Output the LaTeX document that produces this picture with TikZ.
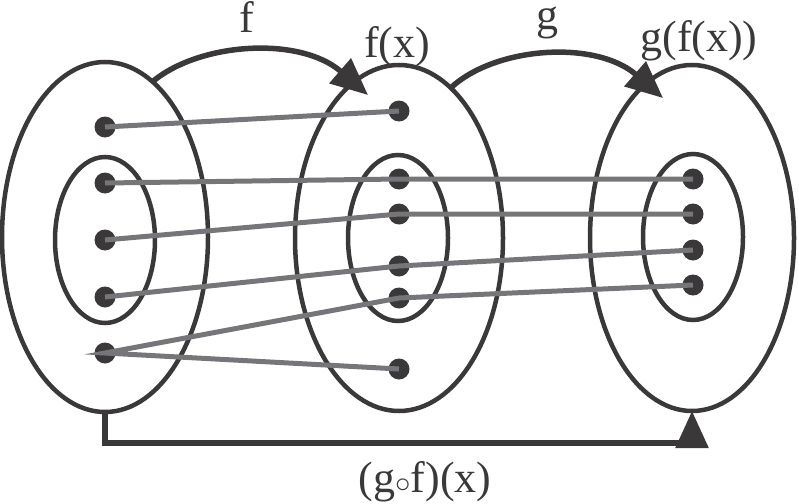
\RequirePackage{fix-cm}
\documentclass[tikz,border=0pt]{standalone}
\usepackage{fontspec}
\setmainfont{Liberation Serif}
\usetikzlibrary{shapes.geometric,arrows.meta}
\definecolor{ink}{RGB}{58,56,57}
\definecolor{wire}{RGB}{118,118,122}
\begin{document}
\begin{tikzpicture}[x=1pt,y=-1pt,
  setring/.style={ellipse,draw=ink,line width=4.5pt,inner sep=0pt,outer sep=0pt},
  elem/.style={circle,fill=ink,minimum size=21pt,inner sep=0pt,outer sep=0pt},
  wirestyle/.style={draw=wire,line width=5pt},
  maparrow/.style={draw=ink,line width=5.5pt,-{Triangle[length=37pt,width=32pt]}},
  lbl/.style={font=\fontsize{44}{50}\selectfont,text=ink,anchor=base,inner sep=0pt,
    text height=0.6em,text depth=0.22em}]
\useasboundingbox (0,0) rectangle (799,503);
% sets
\node[setring,minimum width=206pt,minimum height=350pt] (A) at (105,237) {};
\node[setring,minimum width=100pt,minimum height=166pt] (Ai) at (105,240) {};
\node[setring,minimum width=208pt,minimum height=346pt] (B) at (399,238) {};
\node[setring,minimum width=100pt,minimum height=166pt] (Bi) at (398,238) {};
\node[setring,minimum width=204pt,minimum height=346pt] (C) at (692,238) {};
\node[setring,minimum width=100pt,minimum height=166pt] (Ci) at (693,237) {};
% elements
\node[elem] (a1) at (105,127) {};
\node[elem] (a2) at (105,183) {};
\node[elem] (a3) at (105,240) {};
\node[elem] (a4) at (105,297) {};
\node[elem] (a5) at (105,353) {};
\node[elem] (b1) at (399,111) {};
\node[elem] (b2) at (399,179) {};
\node[elem] (b3) at (399,214) {};
\node[elem] (b4) at (399,266) {};
\node[elem] (b5) at (399,298) {};
\node[elem] (b6) at (399,369) {};
\node[elem] (c1) at (693,179) {};
\node[elem] (c2) at (693,214) {};
\node[elem] (c3) at (693,250) {};
\node[elem] (c4) at (693,285) {};
% mappings
\draw[wirestyle] (a1.center) -- (b1.center);
\draw[wirestyle] (a2.center) -- (b2.center) -- (c1.center);
\draw[wirestyle] (a3.center) -- (b3.center) -- (c2.center);
\draw[wirestyle] (a4.center) -- (b4.center) -- (c3.center);
\draw[wirestyle] (b6.center) -- (a5.center) -- (b5.center) -- (c4.center);
% function arrows
\coordinate (ftip) at (368,95);
\coordinate (gtip) at (663,98);
\draw[maparrow] (A.73) .. controls (200,42) and (300,36) .. (ftip);
\draw[maparrow] (B.71) .. controls (496,46) and (596,40) .. (gtip);
\draw[maparrow] (A.south) -- ++(0,31) -| (C.south);
% labels
\node[lbl] (flbl) at (247,33) {f};
\node[lbl] (fxlbl) at (397,57) {f(x)};
\node[lbl] (glbl) at (547,30) {g};
\node[lbl] (gfxlbl) at (699,52) {g(f(x))};
\node[lbl] (comp) at (425,492) {(g$\scriptstyle\circ$f)(x)};
\end{tikzpicture}
\end{document}
